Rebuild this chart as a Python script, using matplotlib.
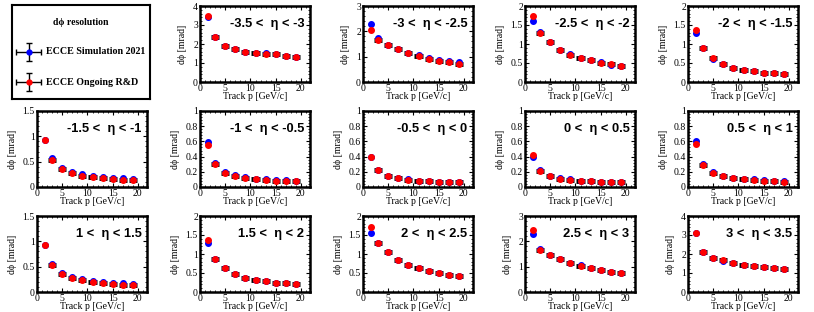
import matplotlib
matplotlib.use("Agg")
import matplotlib.pyplot as plt
from matplotlib.ticker import MultipleLocator, FuncFormatter
import numpy as np

# track momentum bins [GeV/c]
p = [1.5, 3, 5, 7, 9, 11, 13, 15, 17, 19]

eta_labels = [
    "-3.5 <  η < -3", "-3 <  η < -2.5", "-2.5 <  η < -2", "-2 <  η < -1.5",
    "-1.5 <  η < -1", "-1 <  η < -0.5", "-0.5 <  η < 0", "0 <  η < 0.5", "0.5 <  η < 1",
    "1 <  η < 1.5", "1.5 <  η < 2", "2 <  η < 2.5", "2.5 <  η < 3", "3 <  η < 3.5",
]
ymax = [4, 3, 2, 2, 1.5, 1, 1, 1, 1, 1.5, 2, 2, 3, 4]
ymajor = [1, 1, 0.5, 0.5, 0.5, 0.2, 0.2, 0.2, 0.2, 0.5, 0.5, 0.5, 1, 1]

# dphi resolution [mrad], ECCE simulation 2021
sim = [
    [3.40, 2.35, 1.90, 1.72, 1.60, 1.55, 1.52, 1.45, 1.38, 1.32],
    [2.30, 1.72, 1.48, 1.32, 1.16, 1.07, 0.96, 0.88, 0.82, 0.77],
    [1.60, 1.32, 1.05, 0.85, 0.74, 0.63, 0.58, 0.52, 0.46, 0.43],
    [1.30, 0.90, 0.60, 0.47, 0.38, 0.32, 0.28, 0.25, 0.23, 0.21],
    [0.92, 0.58, 0.38, 0.30, 0.26, 0.22, 0.20, 0.18, 0.17, 0.16],
    [0.59, 0.31, 0.20, 0.16, 0.13, 0.11, 0.10, 0.095, 0.09, 0.085],
    [0.39, 0.23, 0.14, 0.12, 0.10, 0.085, 0.075, 0.07, 0.065, 0.06],
    [0.40, 0.23, 0.15, 0.12, 0.10, 0.085, 0.075, 0.07, 0.065, 0.06],
    [0.60, 0.30, 0.20, 0.15, 0.125, 0.11, 0.10, 0.09, 0.08, 0.075],
    [0.92, 0.56, 0.38, 0.30, 0.26, 0.22, 0.20, 0.18, 0.17, 0.16],
    [1.30, 0.88, 0.62, 0.47, 0.38, 0.32, 0.28, 0.25, 0.23, 0.21],
    [1.55, 1.30, 1.05, 0.83, 0.71, 0.62, 0.56, 0.50, 0.46, 0.42],
    [2.30, 1.70, 1.46, 1.30, 1.16, 1.05, 0.95, 0.87, 0.80, 0.75],
    [3.08, 2.12, 1.77, 1.65, 1.55, 1.43, 1.35, 1.33, 1.27, 1.20],
]
# dphi resolution [mrad], ECCE ongoing R&D
rnd = [
    [3.50, 2.35, 1.92, 1.72, 1.60, 1.55, 1.47, 1.45, 1.38, 1.33],
    [2.05, 1.67, 1.45, 1.30, 1.13, 1.03, 0.92, 0.83, 0.79, 0.72],
    [1.73, 1.30, 1.05, 0.85, 0.70, 0.63, 0.57, 0.51, 0.47, 0.42],
    [1.37, 0.90, 0.63, 0.48, 0.38, 0.32, 0.28, 0.25, 0.23, 0.21],
    [0.92, 0.53, 0.36, 0.27, 0.22, 0.19, 0.17, 0.15, 0.14, 0.13],
    [0.55, 0.30, 0.19, 0.15, 0.125, 0.105, 0.095, 0.085, 0.08, 0.075],
    [0.39, 0.22, 0.15, 0.115, 0.095, 0.08, 0.075, 0.065, 0.065, 0.06],
    [0.42, 0.21, 0.14, 0.11, 0.095, 0.08, 0.075, 0.065, 0.065, 0.06],
    [0.56, 0.29, 0.19, 0.14, 0.12, 0.10, 0.095, 0.085, 0.075, 0.07],
    [0.92, 0.53, 0.35, 0.27, 0.23, 0.19, 0.17, 0.15, 0.14, 0.13],
    [1.37, 0.88, 0.63, 0.47, 0.38, 0.32, 0.28, 0.25, 0.23, 0.21],
    [1.70, 1.30, 1.05, 0.83, 0.70, 0.62, 0.55, 0.50, 0.45, 0.42],
    [2.45, 1.65, 1.45, 1.30, 1.14, 1.04, 0.94, 0.86, 0.79, 0.74],
    [3.10, 2.12, 1.77, 1.68, 1.55, 1.43, 1.35, 1.33, 1.27, 1.20],
]

serif = ["Liberation Serif", "DejaVu Serif"]
plt.rcParams["font.family"] = serif

W, H = 814, 312
fig = plt.figure(figsize=(W / 100, H / 100), dpi=100)

col_left = [37, 200, 363, 525, 688]
row_top = [6, 111, 216]
aw, ah = 110, 76


def px_axes(x, y, w, h):
    return fig.add_axes([x / W, 1 - (y + h) / H, w / W, h / H])


# legend box in the first cell
leg = px_axes(12, 5, 138, 94)
leg.set_xlim(0, 1)
leg.set_ylim(0, 1)
leg.set_xticks([])
leg.set_yticks([])
for s in leg.spines.values():
    s.set_linewidth(1.5)
leg.text(0.5, 0.81, "dϕ resolution", ha="center", va="center",
         fontsize=7, fontweight="bold")
for yy, col, lab in [(0.50, "blue", "ECCE Simulation 2021"),
                     (0.18, "red", "ECCE Ongoing R&D")]:
    leg.errorbar([0.12], [yy], xerr=[0.09], yerr=[0.10], fmt="o", color=col,
                 ms=3.5, ecolor="k", elinewidth=1, capsize=2.5, capthick=1)
    leg.text(0.25, yy, lab, ha="left", va="center", fontsize=7.2,
             fontweight="bold")

fmt = FuncFormatter(lambda v, pos: "%g" % round(v, 3))

panels = [(r, c) for r in range(3) for c in range(5) if (r, c) != (0, 0)]
for i, (r, c) in enumerate(panels):
    ax = px_axes(col_left[c], row_top[r], aw, ah)
    ax.errorbar(p[1:], rnd[i][1:], xerr=0.8, fmt="none", ecolor="k",
                elinewidth=3.5, zorder=2)
    ax.plot(p, sim[i], "o", color="blue", ms=4, zorder=3)
    ax.plot(p, rnd[i], "o", color="red", ms=4, zorder=4)
    ax.set_xlim(0, 21.8)
    ax.set_ylim(0, ymax[i])
    ax.xaxis.set_major_locator(MultipleLocator(5))
    ax.xaxis.set_minor_locator(MultipleLocator(1))
    ax.yaxis.set_major_locator(MultipleLocator(ymajor[i]))
    ax.yaxis.set_minor_locator(MultipleLocator(ymajor[i] / 5))
    ax.xaxis.set_major_formatter(fmt)
    ax.yaxis.set_major_formatter(fmt)
    ax.tick_params(which="both", direction="in", top=True, right=True,
                   labelsize=7, pad=1.5)
    ax.tick_params(which="major", length=3)
    ax.tick_params(which="minor", length=1.5)
    for s in ax.spines.values():
        s.set_linewidth(1.8)
    ax.set_xlabel("Track p [GeV/c]", fontsize=7, labelpad=-1)
    ax.set_ylabel("dϕ [mrad]", fontsize=7, labelpad=4)
    ax.text(0.95, 0.76, eta_labels[i], transform=ax.transAxes, ha="right",
            va="center", fontsize=9.3, fontweight="bold",
            family=["Liberation Sans", "DejaVu Sans"])

fig.savefig("out.png", dpi=100)
